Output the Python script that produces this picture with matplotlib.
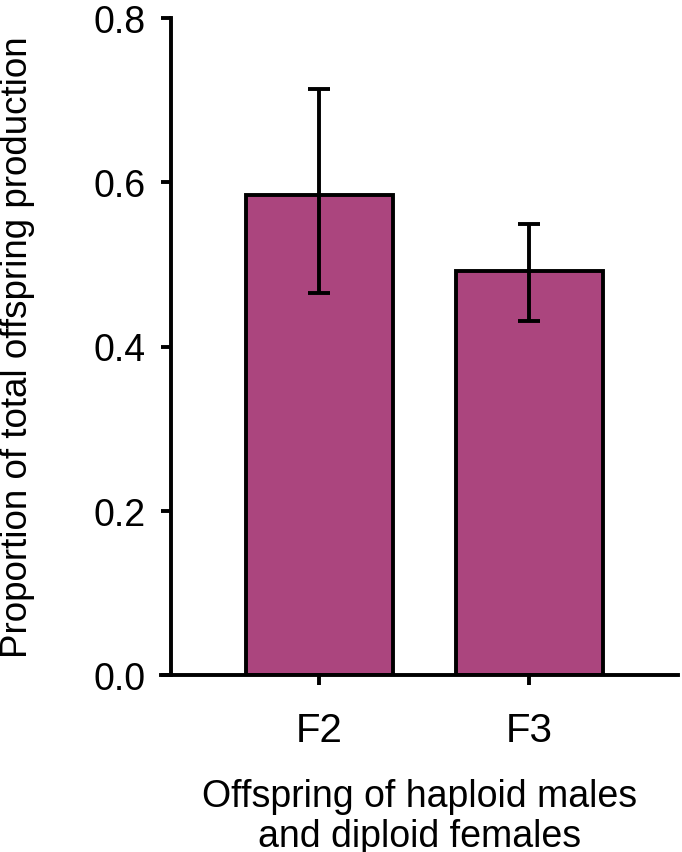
import numpy as np
import matplotlib.pyplot as plt

plt.rcParams['font.family'] = ['Liberation Sans', 'DejaVu Sans']

# data
groups = ['F2', 'F3']
means = [0.584, 0.492]
err_upper = [0.714, 0.549]
err_lower = [0.465, 0.431]
yticks = [0.0, 0.2, 0.4, 0.6, 0.8]

bar_color = '#ab457e'

fig = plt.figure(figsize=(6.82, 8.53), dpi=100)
ax = fig.add_axes([161/682, 1-676/853, (678-161)/682, 657/853])

for s in ['top', 'right']:
    ax.spines[s].set_visible(False)
ax.spines['left'].set_position(('data', -0.705))
ax.spines['left'].set_linewidth(2.8)
ax.spines['bottom'].set_linewidth(2.8)

x = np.arange(len(groups))
yerr = [np.array(means) - np.array(err_lower), np.array(err_upper) - np.array(means)]
ax.bar(x, means, width=0.7, color=bar_color, edgecolor='black', linewidth=2.8, zorder=2)
ax.errorbar(x, means, yerr=yerr, fmt='none', ecolor='black', elinewidth=2.8,
            capsize=8, capthick=2.8, zorder=3)

ax.set_xlim(-0.752, 1.707)
ax.set_ylim(0, 0.8)
ax.set_xticks(x)
ax.set_xticklabels(groups)
ax.set_yticks(yticks)
ax.set_yticklabels(['%.1f' % v for v in yticks])
ax.tick_params(axis='both', direction='out', length=7, width=2.8)
ax.tick_params(axis='y', pad=11, labelsize=27)
ax.tick_params(axis='x', pad=19, labelsize=29)

ax.set_ylabel('Proportion of total offspring production', fontsize=26.5)
ax.yaxis.set_label_coords(-0.243, 0.5)
ax.set_xlabel('Offspring of haploid males\nand diploid females', fontsize=27,
              labelpad=21, linespacing=1.12)

fig.savefig('out.png', dpi=100)
